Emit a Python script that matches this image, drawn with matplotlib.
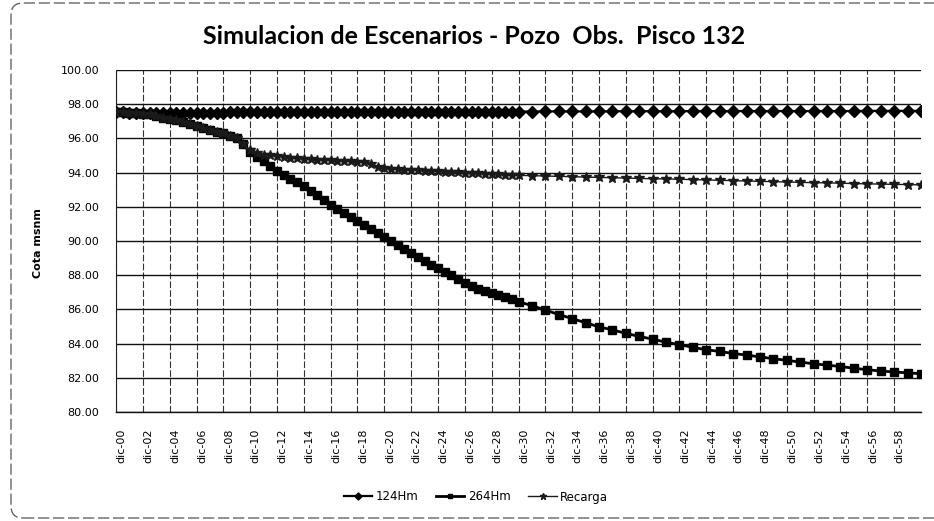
import matplotlib
matplotlib.use("Agg")
import matplotlib.pyplot as plt
from matplotlib.patches import FancyBboxPatch
from matplotlib.transforms import IdentityTransform, ScaledTranslation

# ---------------- data (years after Dec 2000) ----------------
years = [0, 0.5, 1, 1.5, 2, 2.5, 3, 3.5, 4, 4.5,
         5, 5.5, 6, 6.5, 7, 7.5, 8, 8.5, 9, 9.5,
         10, 10.5, 11, 11.5, 12, 12.5, 13, 13.5, 14, 14.5,
         15, 15.5, 16, 16.5, 17, 17.5, 18, 18.5, 19, 19.5,
         20, 20.5, 21, 21.5, 22, 22.5, 23, 23.5, 24, 24.5,
         25, 25.5, 26, 26.5, 27, 27.5, 28, 28.5, 29, 29.5,
         30, 31, 32, 33, 34, 35, 36, 37, 38, 39,
         40, 41, 42, 43, 44, 45, 46, 47, 48, 49,
         50, 51, 52, 53, 54, 55, 56, 57, 58, 59, 60]

h124 = [97.55, 97.52, 97.50, 97.50, 97.48, 97.48, 97.47, 97.47, 97.48, 97.48,
        97.49, 97.49, 97.50, 97.50, 97.50, 97.51, 97.51, 97.52, 97.52, 97.52,
        97.53, 97.53, 97.53, 97.53, 97.54, 97.54, 97.54, 97.54, 97.54, 97.55,
        97.55, 97.55, 97.55, 97.55, 97.55, 97.55, 97.55, 97.55, 97.55, 97.55,
        97.56, 97.56, 97.56, 97.56, 97.56, 97.56, 97.56, 97.56, 97.56, 97.56,
        97.57, 97.57, 97.57, 97.57, 97.57, 97.57, 97.57, 97.57, 97.57, 97.57,
        97.57, 97.57, 97.58, 97.58, 97.58, 97.58, 97.58, 97.59, 97.59, 97.59,
        97.59, 97.59, 97.59, 97.60, 97.60, 97.60, 97.60, 97.60, 97.60, 97.60,
        97.60, 97.60, 97.60, 97.60, 97.60, 97.60, 97.61, 97.61, 97.61, 97.61, 97.61]

h264 = [97.55, 97.55, 97.50, 97.50, 97.45, 97.40, 97.30, 97.22, 97.15, 97.05,
        96.95, 96.85, 96.75, 96.62, 96.50, 96.40, 96.30, 96.15, 96.00, 95.65,
        95.20, 94.90, 94.65, 94.38, 94.10, 93.88, 93.65, 93.43, 93.20, 92.95,
        92.70, 92.40, 92.10, 91.88, 91.65, 91.40, 91.15, 90.93, 90.70, 90.48,
        90.25, 90.00, 89.78, 89.55, 89.30, 89.08, 88.85, 88.62, 88.40, 88.20,
        88.00, 87.75, 87.55, 87.38, 87.22, 87.08, 86.95, 86.82, 86.70, 86.58,
        86.45, 86.22, 85.96, 85.70, 85.46, 85.22, 84.98, 84.80, 84.60, 84.42,
        84.26, 84.08, 83.94, 83.78, 83.64, 83.54, 83.42, 83.33, 83.22, 83.12,
        83.02, 82.92, 82.82, 82.74, 82.66, 82.56, 82.47, 82.40, 82.34, 82.29, 82.24]

recarga = [97.55, 97.55, 97.50, 97.50, 97.45, 97.40, 97.30, 97.22, 97.15, 97.05,
           96.95, 96.85, 96.75, 96.62, 96.50, 96.40, 96.30, 96.15, 96.00, 95.65,
           95.30, 95.15, 95.05, 95.00, 94.97, 94.93, 94.88, 94.83, 94.80, 94.78,
           94.76, 94.74, 94.72, 94.70, 94.68, 94.66, 94.64, 94.60, 94.52, 94.35,
           94.24, 94.22, 94.20, 94.18, 94.16, 94.14, 94.12, 94.10, 94.08, 94.06,
           94.04, 94.02, 94.00, 93.98, 93.96, 93.94, 93.92, 93.90, 93.88, 93.86,
           93.84, 93.82, 93.80, 93.78, 93.76, 93.74, 93.72, 93.70, 93.68, 93.66,
           93.64, 93.63, 93.61, 93.59, 93.57, 93.55, 93.53, 93.51, 93.49, 93.47,
           93.45, 93.43, 93.41, 93.40, 93.38, 93.36, 93.34, 93.33, 93.31, 93.30, 93.28]

series_names = ["124Hm", "264Hm", "Recarga"]

x_tick_years = [0, 2, 4, 6, 8, 10, 12, 14, 16, 18, 20, 22, 24, 26, 28,
                30, 32, 34, 36, 38, 40, 42, 44, 46, 48, 50, 52, 54, 56, 58]
x_tick_labels = ["dic-00", "dic-02", "dic-04", "dic-06", "dic-08", "dic-10",
                 "dic-12", "dic-14", "dic-16", "dic-18", "dic-20", "dic-22",
                 "dic-24", "dic-26", "dic-28", "dic-30", "dic-32", "dic-34",
                 "dic-36", "dic-38", "dic-40", "dic-42", "dic-44", "dic-46",
                 "dic-48", "dic-50", "dic-52", "dic-54", "dic-56", "dic-58"]
y_ticks = [80, 82, 84, 86, 88, 90, 92, 94, 96, 98, 100]

title = "Simulacion de Escenarios - Pozo  Obs.  Pisco 132"
y_label = "Cota msnm"

# ---------------- figure ----------------
W, H = 934, 521
fig = plt.figure(figsize=(W / 100, H / 100), dpi=100)
fig.patch.set_facecolor("white")

# outer chart border (rounded)
border = FancyBboxPatch((11, 3), 960, 515, boxstyle="round,pad=0,rounding_size=12",
                        transform=IdentityTransform(), fill=False,
                        edgecolor="#555555", linewidth=0.9, linestyle=(0, (9, 3)))
fig.add_artist(border)

ax = fig.add_axes([116 / W, 109 / H, 805 / W, 342 / H])
ax.set_facecolor("white")

ax.plot(years, h124, color="black", lw=1.6, marker="D", ms=6.0,
        mfc="black", mec="black", label=series_names[0], zorder=4)
ax.plot(years, h264, color="black", lw=2.0, marker="s", ms=6.0,
        mfc="black", mec="black", label=series_names[1], zorder=3)
ax.plot(years, recarga, color="#1a1a1a", lw=1.0, marker="*", ms=7.5,
        mfc="#1a1a1a", mec="#1a1a1a", label=series_names[2], zorder=5)

ax.set_xlim(0, 60)
ax.set_ylim(80, 100)
ax.set_yticks(y_ticks)
ax.set_yticklabels([f"{v:.2f}" for v in y_ticks], fontsize=8, family="DejaVu Sans")
ax.set_xticks(x_tick_years)
ax.set_xticklabels(x_tick_labels, rotation=90, fontsize=8, family="DejaVu Sans")
ax.tick_params(axis="both", length=0)
ax.tick_params(axis="y", pad=12)
ax.tick_params(axis="x", pad=12)

offset = ScaledTranslation(4 / 72, 0, fig.dpi_scale_trans)
for lab in ax.get_xticklabels():
    lab.set_transform(lab.get_transform() + offset)

ax.set_axisbelow(True)
ax.grid(axis="y", color="#111111", lw=1.0, ls="-")
ax.grid(axis="x", color="#333333", lw=0.8, ls=(0, (6, 2)))
for s in ["top", "right"]:
    ax.spines[s].set_visible(False)
ax.spines["left"].set_color("#222222")
ax.spines["left"].set_linewidth(0.8)
ax.spines["bottom"].set_color("#111111")
ax.spines["bottom"].set_linewidth(1.0)

fig.text(38 / W, 1 - 243 / H, y_label, rotation=90, ha="center", va="center",
         fontsize=8, fontweight="bold", family="DejaVu Sans")

fig.text(474 / W, 1 - 36 / H, title, ha="center", va="center",
         fontsize=18, fontweight="bold", family="Lato")

leg = fig.legend(loc="center", bbox_to_anchor=(476 / W, 1 - 497 / H), ncol=3,
                 frameon=False, fontsize=8.5, handlelength=2.4, handletextpad=0.3,
                 columnspacing=1.5, markerscale=0.6)

fig.savefig("out.png", dpi=100)
